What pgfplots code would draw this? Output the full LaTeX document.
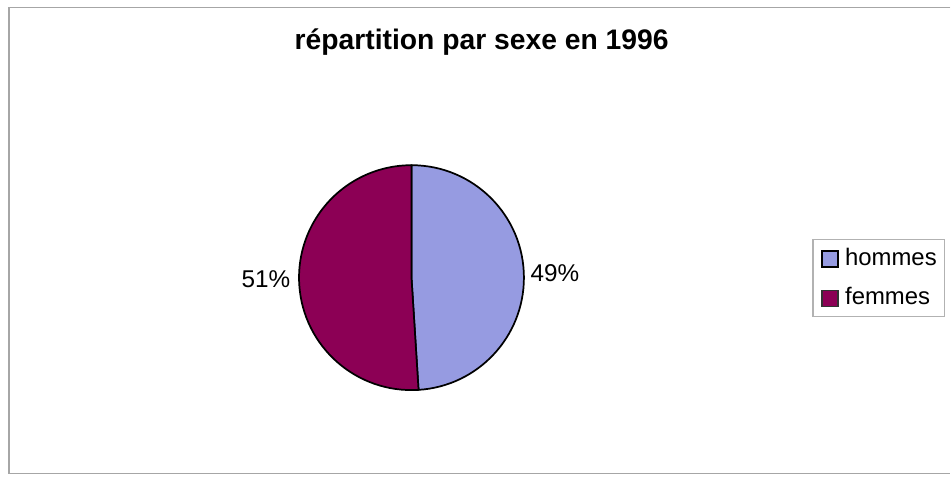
\documentclass[border=0pt]{standalone}
\usepackage{pgfplots}
\pgfplotsset{compat=1.18}
\usepackage{fontspec}
\setmainfont{Liberation Sans}
\definecolor{hommesC}{RGB}{150,155,225}
\definecolor{femmesC}{RGB}{140,0,85}

\begin{document}
\begin{tikzpicture}
% 1 px of the reference = 0.75pt, y counted from the bottom
\begin{axis}[
    width=713.25pt, height=360pt, scale only axis,
    xmin=0, xmax=951, ymin=0, ymax=480,
    hide axis, clip=false,
]
\path (axis cs:0,0) rectangle (axis cs:951,480);

% outer frame (right side is off the page)
\draw[gray!70, line width=1pt] (axis cs:955,472.5) -- (axis cs:9,472.5) -- (axis cs:9,4) -- (axis cs:955,4);

% title
\node[anchor=base, font=\fontsize{21.3}{25}\selectfont\bfseries] at (axis cs:484,430) {répartition par sexe en 1996};

% pie: hommes 49 %, femmes 51 %, starting at 12 o'clock, clockwise
\pgfmathsetmacro{\angH}{90-3.6*49}
\fill[hommesC, draw=black, line width=1.3pt] (axis cs:413.5,201) -- ++(90:84.75pt)
    arc[start angle=90, end angle=\angH, radius=84.75pt] -- cycle;
\fill[femmesC, draw=black, line width=1.3pt] (axis cs:413.5,201) -- ++(\angH:84.75pt)
    arc[start angle=\angH, end angle=-270, radius=84.75pt] -- cycle;

% data labels
\node[anchor=base west, font=\fontsize{18.3}{21}\selectfont, inner sep=0pt] at (axis cs:533,197) {49\%};
\node[anchor=base east, font=\fontsize{18.3}{21}\selectfont, inner sep=0pt] at (axis cs:292,191) {51\%};

% legend
\draw[gray!60, fill=white, line width=0.8pt] (axis cs:817,239) rectangle (axis cs:949,162);
\filldraw[fill=hommesC, draw=black, line width=1.5pt] (axis cs:826,228) rectangle (axis cs:842,212);
\filldraw[fill=femmesC, draw=black!80, line width=1pt] (axis cs:826,188) rectangle (axis cs:842,172);
\node[anchor=base west, font=\fontsize{18}{21}\selectfont, inner sep=0pt] at (axis cs:849,213) {hommes};
\node[anchor=base west, font=\fontsize{18}{21}\selectfont, inner sep=0pt] at (axis cs:849,174) {femmes};
\end{axis}
\end{tikzpicture}
\end{document}
